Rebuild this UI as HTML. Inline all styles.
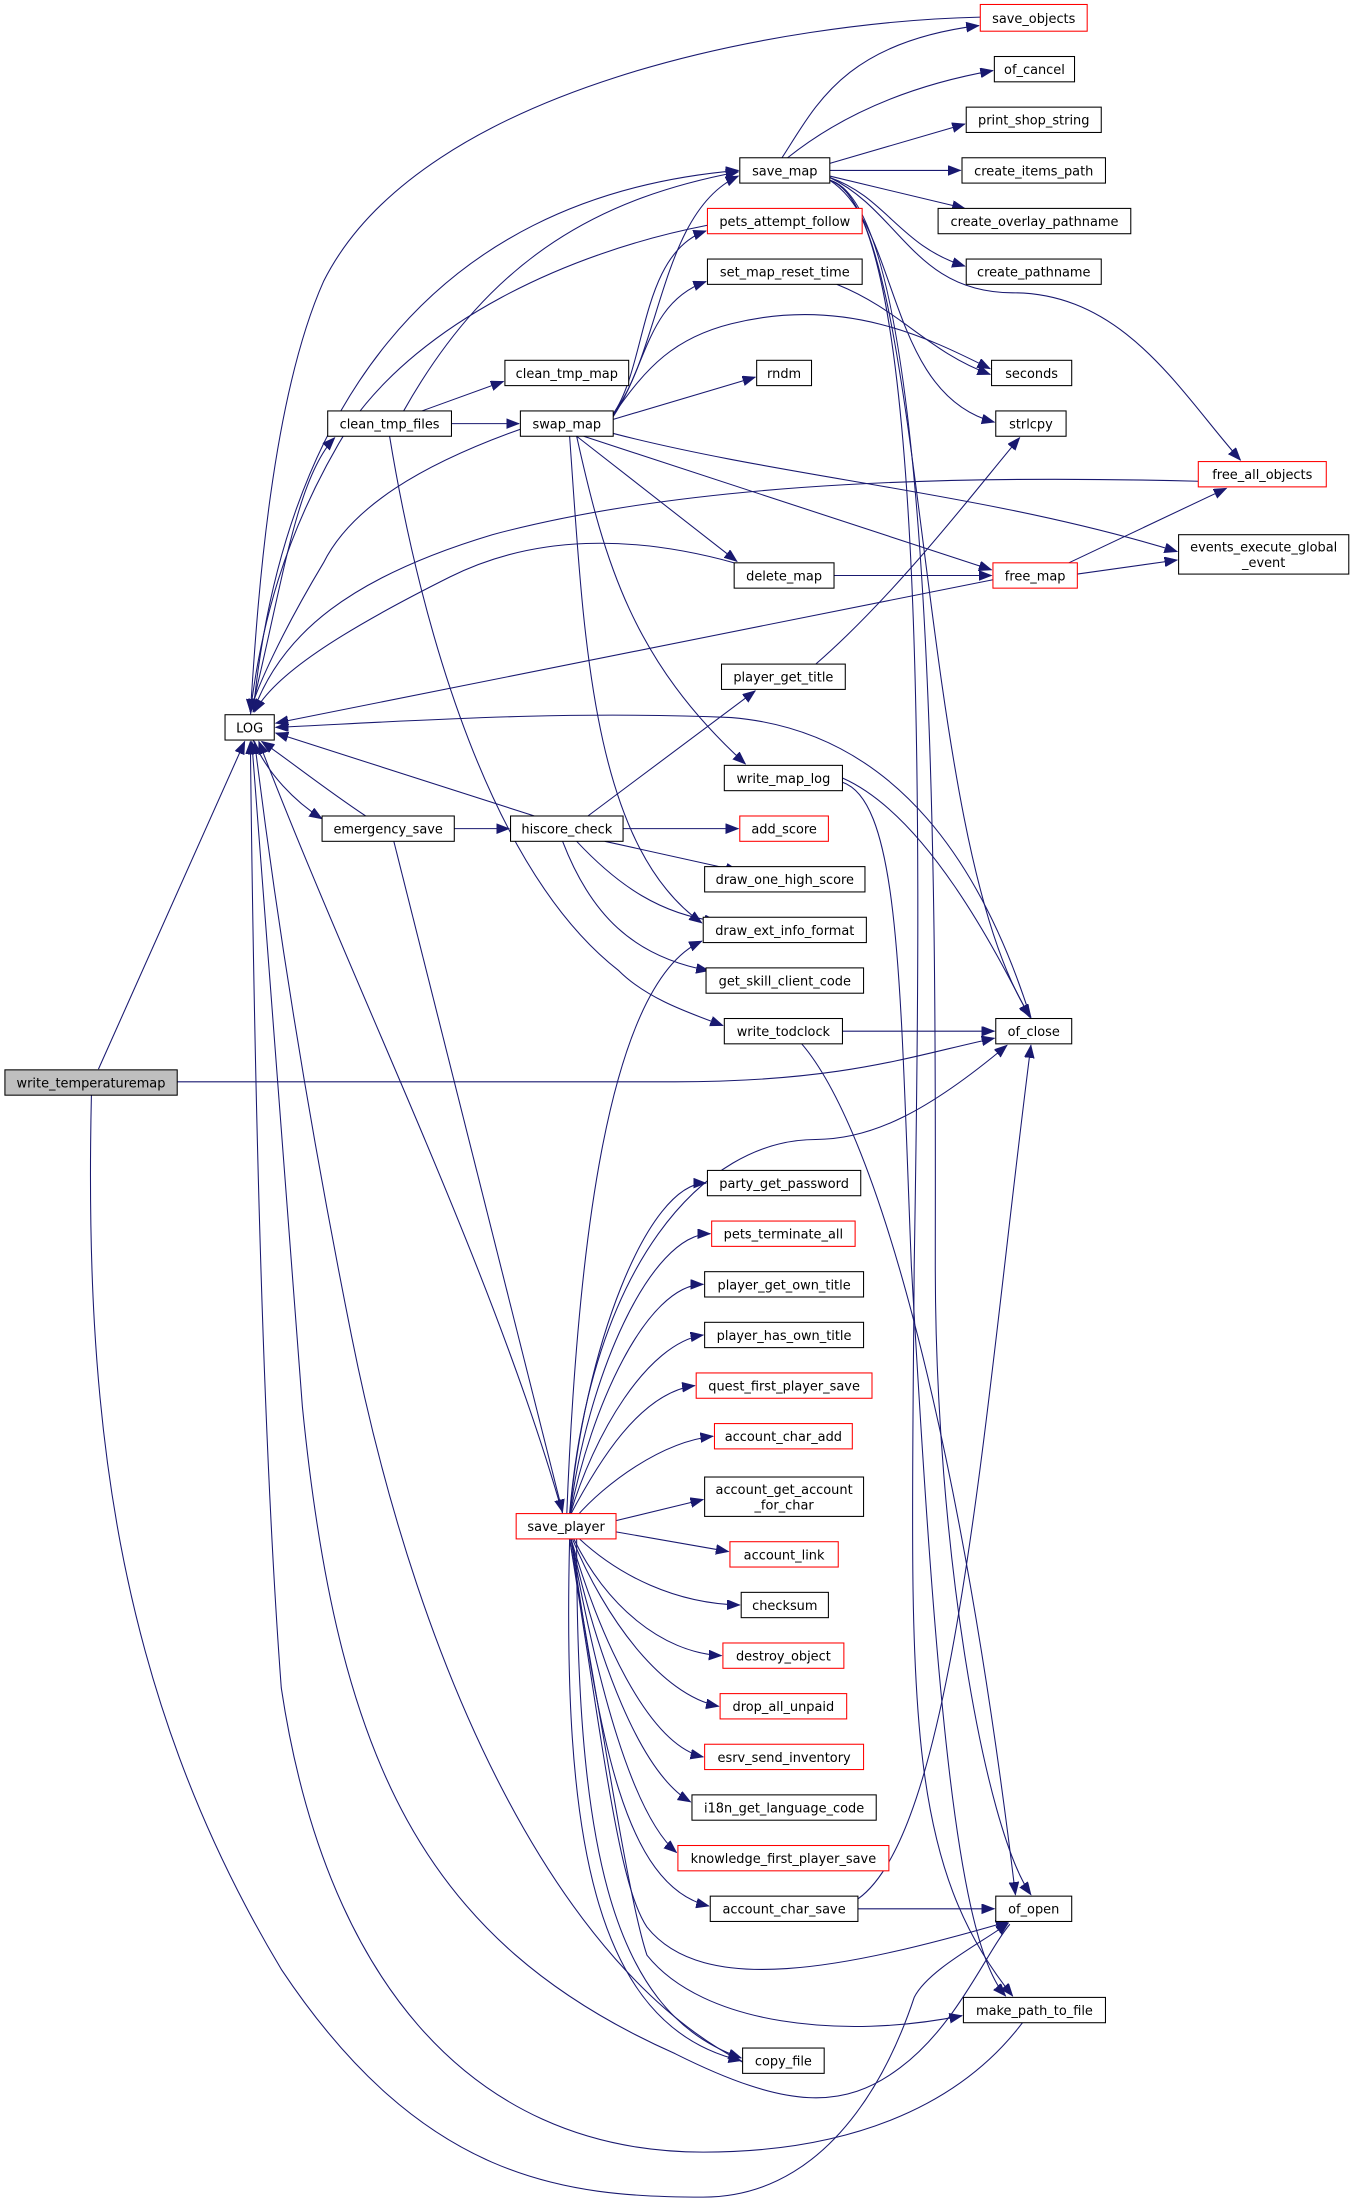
<!DOCTYPE html>
<html><head><meta charset="utf-8"><style>
html,body{margin:0;padding:0;background:#fff;}
svg{display:block;}
text{font-family:"DejaVu Sans","Liberation Sans",sans-serif;font-size:9.2px;fill:#000;text-anchor:middle;}
.n{fill:#fff;stroke:#000;stroke-width:0.75;}
.r{fill:#fff;stroke:#ff0000;stroke-width:0.75;}
.g{fill:#bfbfbf;stroke:#000;stroke-width:0.75;}
path.e{fill:none;stroke:#191970;stroke-width:0.75;marker-end:url(#a);}
</style></head><body>
<svg width="1353" height="2203" viewBox="0 0 962 1566" xmlns="http://www.w3.org/2000/svg">
<defs><marker id="a" markerUnits="userSpaceOnUse" markerWidth="10" markerHeight="8" refX="9" refY="3.5" orient="auto"><path d="M0,0 L9,3.5 L0,7 z" fill="#191970" stroke="#191970" stroke-width="0.5"/></marker></defs>
<g>
<path class="e" d="M697,12 C560,15 300,60 230,200 C190,290 182,450 178,506"/>
<path class="e" d="M556,112 C580,75 600,30 696,18"/>
<path class="e" d="M560,112 C600,80 650,60 706,50"/>
<path class="e" d="M590,116 L686,88"/>
<path class="e" d="M590,121 L683,121"/>
<path class="e" d="M590,125 L686,148"/>
<path class="e" d="M590,126 C630,140 640,175 686,189"/>
<path class="e" d="M590,126 C640,150 650,208 720,208 C800,208 840,280 882,327"/>
<path class="e" d="M590,128 C640,160 630,280 707,300"/>
<path class="e" d="M590,128 C660,150 650,600 733,723"/>
<path class="e" d="M590,128 C670,150 665,700 665,900 C665,1100 700,1300 733,1347"/>
<path class="e" d="M590,128 C660,150 655,600 650,900 C648,1200 640,1320 720,1419"/>
<path class="e" d="M436,294 C470,250 470,150 525,125"/>
<path class="e" d="M287,292 C350,180 430,140 525,122"/>
<path class="e" d="M180,506 C200,300 300,140 525,121"/>
<path class="e" d="M503,160 C400,180 300,230 250,300 C200,380 185,450 178,506"/>
<path class="e" d="M436,294 C460,260 455,180 502,164"/>
<path class="e" d="M436,296 C460,260 460,215 502,200"/>
<path class="e" d="M436,295 C460,260 480,240 520,230 C600,210 660,240 704,262"/>
<path class="e" d="M595,202 C640,220 660,250 704,266"/>
<path class="e" d="M436,298 L537,268"/>
<path class="e" d="M300,292 L358,271"/>
<path class="e" d="M321,301 L369,301"/>
<path class="e" d="M370,305 C300,330 250,360 230,400 C200,450 182,490 178,506"/>
<path class="e" d="M178,508 C200,420 210,340 238,311"/>
<path class="e" d="M415,310 L705,405"/>
<path class="e" d="M436,308 C560,340 700,350 837,392"/>
<path class="e" d="M410,310 L524,399"/>
<path class="e" d="M410,310 C430,400 450,470 530,543"/>
<path class="e" d="M405,310 C415,450 420,600 499,656"/>
<path class="e" d="M852,342 C700,338 500,340 350,380 C250,410 200,450 180,506"/>
<path class="e" d="M593,409 L705,409"/>
<path class="e" d="M522,400 C450,380 380,380 320,410 C240,450 195,480 181,506"/>
<path class="e" d="M760,400 L872,347"/>
<path class="e" d="M766,408 L837,398"/>
<path class="e" d="M706,412 L196,514"/>
<path class="e" d="M580,472 C640,420 700,340 725,311"/>
<path class="e" d="M733,724 C700,620 640,520 520,510 C400,505 300,512 196,517"/>
<path class="e" d="M599,553 C660,580 710,680 732,723"/>
<path class="e" d="M599,556 C640,570 640,700 648,900 C665,1200 680,1380 715,1419"/>
<path class="e" d="M380,580 L196,521"/>
<path class="e" d="M180,526 C190,550 210,570 229,582"/>
<path class="e" d="M260,580 C230,560 205,540 186,527"/>
<path class="e" d="M323,589 L362,589"/>
<path class="e" d="M280,598 L400,1075"/>
<path class="e" d="M418,580 L537,491"/>
<path class="e" d="M443,589 L525,589"/>
<path class="e" d="M430,598 L525,619"/>
<path class="e" d="M410,598 C440,630 470,650 510,655"/>
<path class="e" d="M400,598 C420,650 450,680 504,690"/>
<path class="e" d="M277,310 C300,450 350,620 440,690 C460,710 490,720 514,729"/>
<path class="e" d="M599,733 L707,733"/>
<path class="e" d="M570,742 C620,800 680,1000 722,1347"/>
<path class="e" d="M70,760 L174,527"/>
<path class="e" d="M126,769 L480,769 C600,769 650,750 707,738"/>
<path class="e" d="M65,778 C60,1000 80,1200 200,1400 C300,1550 400,1562 500,1562 C600,1562 640,1450 650,1420 C660,1400 700,1380 717,1367"/>
<path class="e" d="M727,1438 C680,1500 600,1530 500,1530 C330,1530 230,1400 200,1200 C185,1000 180,700 178,527"/>
<path class="e" d="M528,1466 C400,1400 300,1200 250,950 C210,750 190,600 181,527"/>
<path class="e" d="M718,1368 C700,1390 680,1440 640,1470 C600,1500 560,1500 480,1460 C300,1380 240,1250 215,1000 C200,800 185,600 179,527"/>
<path class="e" d="M400,1076 C350,900 250,700 184,527"/>
<path class="e" d="M405,1094 C400,1300 420,1440 527,1465"/>
<path class="e" d="M410,1094 C410,1300 430,1430 527,1463"/>
<path class="e" d="M405,1094 C430,1250 440,1340 460,1370 C500,1420 600,1400 717,1366"/>
<path class="e" d="M405,1094 C440,1300 450,1360 460,1390 C500,1440 600,1450 684,1433"/>
<path class="e" d="M405,1076 C420,900 500,810 580,810 C620,810 660,790 716,743"/>
<path class="e" d="M403,1076 C410,900 430,700 499,669"/>
<path class="e" d="M610,1357 L707,1357"/>
<path class="e" d="M610,1350 C680,1300 700,1000 733,743"/>
<path class="e" d="M405,1078 C415,960 460,841 502,841"/>
<path class="e" d="M405,1078 C417,980 462,877 505,877"/>
<path class="e" d="M405,1078 C420,1000 460,913 500,913"/>
<path class="e" d="M405,1078 C422,1020 460,955 500,949"/>
<path class="e" d="M405,1078 C425,1040 455,990 494,985"/>
<path class="e" d="M410,1078 C430,1055 470,1025 507,1021"/>
<path class="e" d="M438,1081 L500,1066"/>
<path class="e" d="M438,1089 L518,1103"/>
<path class="e" d="M412,1094 C440,1120 480,1140 526,1141"/>
<path class="e" d="M408,1094 C430,1140 470,1175 513,1177"/>
<path class="e" d="M407,1094 C430,1150 470,1205 511,1213"/>
<path class="e" d="M406,1094 C425,1160 460,1240 500,1249"/>
<path class="e" d="M406,1094 C425,1180 455,1260 491,1281"/>
<path class="e" d="M406,1094 C425,1200 450,1290 481,1317"/>
<path class="e" d="M406,1094 C425,1220 440,1340 504,1355"/>
</g>
<g>
<rect class="r" x="697" y="3" width="76" height="19"/><text x="735" y="16">save_objects</text>
<rect class="n" x="707" y="40" width="57" height="18"/><text x="735.5" y="52.5">of_cancel</text>
<rect class="n" x="687" y="76" width="96" height="18"/><text x="735" y="88.5">print_shop_string</text>
<rect class="n" x="526" y="112" width="64" height="18"/><text x="558" y="124.5">save_map</text>
<rect class="n" x="684" y="112" width="102" height="18"/><text x="735" y="124.5">create_items_path</text>
<rect class="r" x="503" y="148" width="110" height="18"/><text x="558" y="160.5">pets_attempt_follow</text>
<rect class="n" x="667" y="148" width="137" height="18"/><text x="735.5" y="160.5">create_overlay_pathname</text>
<rect class="n" x="503" y="184" width="110" height="18"/><text x="558" y="196.5">set_map_reset_time</text>
<rect class="n" x="687" y="184" width="96" height="18"/><text x="735" y="196.5">create_pathname</text>
<rect class="n" x="359" y="256" width="88" height="18"/><text x="403" y="268.5">clean_tmp_map</text>
<rect class="n" x="538" y="256" width="39" height="18"/><text x="557.5" y="268.5">rndm</text>
<rect class="n" x="705" y="256" width="57" height="18"/><text x="733.5" y="268.5">seconds</text>
<rect class="n" x="233" y="292" width="88" height="18"/><text x="277" y="304.5">clean_tmp_files</text>
<rect class="n" x="370" y="292" width="66" height="18"/><text x="403" y="304.5">swap_map</text>
<rect class="n" x="708" y="292" width="50" height="18"/><text x="733" y="304.5">strlcpy</text>
<rect class="r" x="852" y="328" width="91" height="18"/><text x="897.5" y="340.5">free_all_objects</text>
<rect class="n" x="838" y="380" width="121" height="28"/><text x="898.5" y="392">events_execute_global</text><text x="898.5" y="403">_event</text>
<rect class="n" x="522" y="400" width="71" height="18"/><text x="557.5" y="412.5">delete_map</text>
<rect class="r" x="706" y="400" width="60" height="18"/><text x="736" y="412.5">free_map</text>
<rect class="n" x="513" y="472" width="88" height="18"/><text x="557" y="484.5">player_get_title</text>
<rect class="n" x="160" y="508" width="35" height="18"/><text x="177.5" y="520.5">LOG</text>
<rect class="n" x="515" y="544" width="84" height="18"/><text x="557" y="556.5">write_map_log</text>
<rect class="n" x="229" y="580" width="94" height="18"/><text x="276" y="592.5">emergency_save</text>
<rect class="n" x="363" y="580" width="80" height="18"/><text x="403" y="592.5">hiscore_check</text>
<rect class="r" x="526" y="580" width="63" height="18"/><text x="557.5" y="592.5">add_score</text>
<rect class="n" x="501" y="616" width="114" height="18"/><text x="558" y="628.5">draw_one_high_score</text>
<rect class="n" x="500" y="652" width="116" height="18"/><text x="558" y="664.5">draw_ext_info_format</text>
<rect class="n" x="502" y="688" width="112" height="18"/><text x="558" y="700.5">get_skill_client_code</text>
<rect class="n" x="515" y="724" width="84" height="18"/><text x="557" y="736.5">write_todclock</text>
<rect class="n" x="708" y="724" width="54" height="18"/><text x="735" y="736.5">of_close</text>
<rect class="g" x="3.5" y="760.5" width="122.5" height="18"/><text x="64.7" y="773">write_temperaturemap</text>
<rect class="n" x="503" y="832" width="109" height="18"/><text x="557.5" y="844.5">party_get_password</text>
<rect class="r" x="506" y="868" width="102" height="18"/><text x="557" y="880.5">pets_terminate_all</text>
<rect class="n" x="501" y="904" width="113" height="18"/><text x="557.5" y="916.5">player_get_own_title</text>
<rect class="n" x="501" y="940" width="113" height="18"/><text x="557.5" y="952.5">player_has_own_title</text>
<rect class="r" x="495" y="976" width="125" height="18"/><text x="557.5" y="988.5">quest_first_player_save</text>
<rect class="r" x="508" y="1012" width="98" height="18"/><text x="557" y="1024.5">account_char_add</text>
<rect class="n" x="501" y="1050" width="113" height="28"/><text x="557.5" y="1062">account_get_account</text><text x="557.5" y="1073">_for_char</text>
<rect class="r" x="367" y="1076" width="71" height="18"/><text x="402.5" y="1088.5">save_player</text>
<rect class="r" x="519" y="1096" width="77" height="18"/><text x="557.5" y="1108.5">account_link</text>
<rect class="n" x="527" y="1132" width="62" height="18"/><text x="558" y="1144.5">checksum</text>
<rect class="r" x="514" y="1168" width="86" height="18"/><text x="557" y="1180.5">destroy_object</text>
<rect class="r" x="512" y="1204" width="90" height="18"/><text x="557" y="1216.5">drop_all_unpaid</text>
<rect class="r" x="501" y="1240" width="113" height="18"/><text x="557.5" y="1252.5">esrv_send_inventory</text>
<rect class="n" x="492" y="1276" width="131" height="18"/><text x="557.5" y="1288.5">i18n_get_language_code</text>
<rect class="r" x="482" y="1312" width="150" height="18"/><text x="557" y="1324.5">knowledge_first_player_save</text>
<rect class="n" x="505" y="1348" width="105" height="18"/><text x="557.5" y="1360.5">account_char_save</text>
<rect class="n" x="708" y="1348" width="54" height="18"/><text x="735" y="1360.5">of_open</text>
<rect class="n" x="685" y="1420" width="101" height="18"/><text x="735.5" y="1432.5">make_path_to_file</text>
<rect class="n" x="528" y="1456" width="58" height="18"/><text x="557" y="1468.5">copy_file</text>
</g>
</svg>
</body></html>
